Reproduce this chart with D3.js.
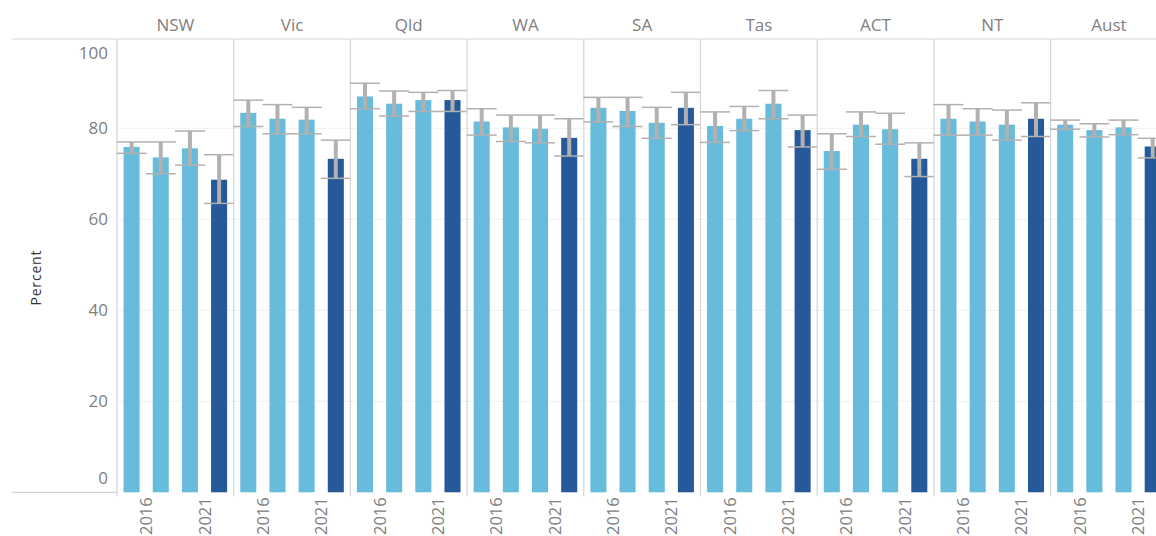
<!DOCTYPE html>
<html>
<head>
<meta charset="utf-8">
<script src="https://cdn.jsdelivr.net/npm/d3@7"></script>
<style>
  body { margin: 0; background: #fff; }
  svg { display: block; font-family: "Open Sans", sans-serif; }
</style>
</head>
<body>
<div id="chart"></div>
<script>
// Regions (panels) and the four survey years in each
const regions = ['NSW', 'Vic', 'Qld', 'WA', 'SA', 'Tas', 'ACT', 'NT', 'Aust'];
const yearLabels = ['2016', '', '2021', ''];

// Bar values (percent), one row per region, four years each
const values = [
  [75.9, 73.6, 75.6, 68.7],
  [83.4, 82.1, 81.9, 73.3],
  [87.0, 85.4, 86.2, 86.2],
  [81.5, 80.2, 79.9, 77.9],
  [84.5, 83.8, 81.2, 84.5],
  [80.5, 82.1, 85.4, 79.6],
  [75.0, 80.8, 79.8, 73.3],
  [82.1, 81.5, 80.8, 82.1],
  [80.8, 79.6, 80.2, 76.0]
];

// Confidence interval bounds
const lower = [
  [74.5, 70.0, 71.9, 63.5],
  [80.4, 78.8, 78.8, 69.0],
  [84.3, 82.7, 83.7, 83.7],
  [78.5, 77.1, 76.8, 73.9],
  [81.4, 80.4, 77.8, 80.8],
  [76.9, 79.5, 82.1, 75.9],
  [71.0, 78.2, 76.5, 69.4],
  [78.5, 78.5, 77.4, 78.2],
  [79.8, 78.1, 78.6, 73.5]
];
const upper = [
  [77.0, 77.0, 79.4, 74.2],
  [86.2, 85.2, 84.6, 77.4],
  [89.9, 88.2, 87.9, 88.3],
  [84.3, 82.9, 82.9, 82.1],
  [86.8, 86.8, 84.6, 87.9],
  [83.6, 84.8, 88.3, 82.9],
  [78.8, 83.6, 83.3, 76.8],
  [85.2, 84.3, 84.0, 85.6],
  [81.8, 81.0, 81.8, 77.8]
];

const yTicks = [0, 20, 40, 60, 80, 100];

const W = 1156, H = 536;
const plotLeft = 117, panelW = 116.7;
const plotTop = 39, plotBottom = 492.3;

const lightBlue = '#67bcdb';
const darkBlue = '#26599a';
const errColor = '#b3b0b0';
const textColor = '#808080';
const lineColor = '#d4d4d4';

const svg = d3.select('#chart').append('svg')
  .attr('width', W).attr('height', H);

const panelX = d3.scaleBand()
  .domain(regions)
  .range([plotLeft, plotLeft + panelW * regions.length]);

const barX = d3.scaleBand()
  .domain(d3.range(yearLabels.length))
  .range([0, panelW])
  .paddingInner(0.45)
  .paddingOuter(0.225);

const y = d3.scaleLinear().domain([0, 100]).range([plotBottom, plotBottom - 455]);

// Gridlines
svg.append('g')
  .selectAll('line')
  .data(yTicks.filter(t => t > 0 && t < 100))
  .join('line')
  .attr('x1', plotLeft).attr('x2', W)
  .attr('y1', d => y(d)).attr('y2', d => y(d))
  .attr('stroke', '#f0f0f0').attr('stroke-width', 1);

// Y axis tick labels (first and last nudged inside like Tableau)
svg.append('g')
  .selectAll('text')
  .data(yTicks)
  .join('text')
  .attr('x', 108)
  .attr('y', d => d === 100 ? y(d) + 16 : d === 0 ? y(d) - 14 : y(d))
  .attr('dy', '0.35em')
  .attr('text-anchor', 'end')
  .attr('fill', textColor)
  .attr('font-size', 17)
  .text(d => d);

// Y axis title
svg.append('text')
  .attr('transform', `translate(41,${(plotTop + plotBottom) / 2 + 12}) rotate(-90)`)
  .attr('text-anchor', 'middle')
  .attr('fill', '#333')
  .attr('font-size', 14)
  .attr('letter-spacing', 0.8)
  .text('Percent');

// Header line and axis baseline
svg.append('line')
  .attr('x1', 12).attr('x2', W).attr('y1', plotTop).attr('y2', plotTop)
  .attr('stroke', lineColor).attr('stroke-width', 1.2);
svg.append('line')
  .attr('x1', 12).attr('x2', plotLeft).attr('y1', plotBottom).attr('y2', plotBottom)
  .attr('stroke', lineColor).attr('stroke-width', 1.2);

// Panels
regions.forEach((r, i) => {
  const g = svg.append('g').attr('transform', `translate(${panelX(r)},0)`);

  g.append('line')
    .attr('x1', 0).attr('x2', 0)
    .attr('y1', plotTop).attr('y2', plotBottom + 4)
    .attr('stroke', lineColor).attr('stroke-width', 1.2);

  g.append('text')
    .attr('x', panelW / 2).attr('y', 31)
    .attr('text-anchor', 'middle')
    .attr('fill', textColor)
    .attr('font-size', 17)
    .text(r);

  const rows = values[i].map((v, j) => ({ j, v, lo: lower[i][j], hi: upper[i][j] }));

  g.selectAll('rect.bar')
    .data(rows)
    .join('rect')
    .attr('class', 'bar')
    .attr('x', d => barX(d.j))
    .attr('y', d => y(d.v))
    .attr('width', barX.bandwidth())
    .attr('height', d => y(0) - y(d.v))
    .attr('fill', d => d.j === 3 ? darkBlue : lightBlue);

  const cx = d => barX(d.j) + barX.bandwidth() / 2;

  // Error bar stems
  g.selectAll('line.stem')
    .data(rows)
    .join('line')
    .attr('class', 'stem')
    .attr('x1', cx).attr('x2', cx)
    .attr('y1', d => y(d.lo)).attr('y2', d => y(d.hi))
    .attr('stroke', errColor).attr('stroke-width', 4);

  // Error bar caps
  ['lo', 'hi'].forEach(k => {
    g.selectAll(`line.cap-${k}`)
      .data(rows)
      .join('line')
      .attr('class', `cap-${k}`)
      .attr('x1', d => cx(d) - 15).attr('x2', d => cx(d) + 15)
      .attr('y1', d => y(d[k])).attr('y2', d => y(d[k]))
      .attr('stroke', errColor).attr('stroke-width', 1.5);
  });

  // Year labels sit between each pair of bars
  g.selectAll('text.year')
    .data(rows.filter(d => yearLabels[d.j]))
    .join('text')
    .attr('class', 'year')
    .attr('transform', d => `translate(${cx(d) + barX.step() / 2 + 6},${plotBottom + 5}) rotate(-90)`)
    .attr('text-anchor', 'end')
    .attr('fill', textColor)
    .attr('font-size', 16.5)
    .text(d => yearLabels[d.j]);
});
</script>
</body>
</html>
